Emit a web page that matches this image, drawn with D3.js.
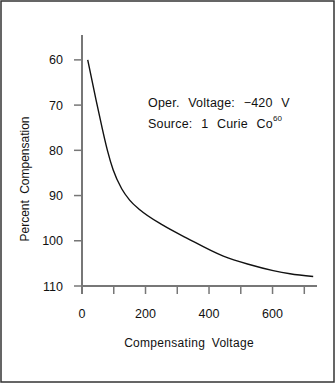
<!DOCTYPE html>
<html>
<head>
<meta charset="utf-8">
<script src="https://cdn.jsdelivr.net/npm/d3@7"></script>
<style>
  html, body { margin: 0; padding: 0; background: #fff; }
  svg { display: block; }
  text { font-family: "Liberation Sans", Arial, sans-serif; fill: #111; }
</style>
</head>
<body>
<svg id="chart" width="336" height="384"></svg>
<script>
// Compensating voltage (V) vs percent compensation
const voltage = [18, 44, 62, 71, 80, 98, 125, 150, 183, 256, 330, 445, 524, 602, 655, 728];
const percent = [60, 68.8, 74.6, 77.4, 80.0, 84.3, 88.5, 91.0, 93.2, 96.6, 99.4, 103.4, 105.2, 106.6, 107.3, 107.9];

const xTicks = [0, 100, 200, 300, 400, 500, 600, 700];
const xTickLabels = [0, 200, 400, 600];
const yTicks = [60, 70, 80, 90, 100, 110];

const svg = d3.select("#chart");
const W = 336, H = 384;

// outer frame
svg.append("rect")
  .attr("x", 1).attr("y", 1).attr("width", W - 3).attr("height", H - 3)
  .attr("fill", "none").attr("stroke", "#333").attr("stroke-width", 1.5);

const x = d3.scaleLinear().domain([0, 740]).range([82, 317]);
const y = d3.scaleLinear().domain([54.5, 110]).range([35, 286]);

const axisColor = "#777";

// y axis
const gy = svg.append("g");
gy.append("line")
  .attr("x1", 82).attr("x2", 82).attr("y1", y(54.5)).attr("y2", y(110) + 8)
  .attr("stroke", axisColor).attr("stroke-width", 2);
gy.selectAll("line.tick").data(yTicks).join("line")
  .attr("class", "tick")
  .attr("x1", 74).attr("x2", 82)
  .attr("y1", d => y(d)).attr("y2", d => y(d))
  .attr("stroke", axisColor).attr("stroke-width", 1.5);
gy.selectAll("text").data(yTicks).join("text")
  .attr("x", 63).attr("y", d => y(d))
  .attr("dy", "0.36em")
  .attr("text-anchor", "end")
  .attr("font-size", 12.5)
  .text(d => d);

// x axis
const gx = svg.append("g");
gx.append("line")
  .attr("x1", 82).attr("x2", x(740)).attr("y1", 286).attr("y2", 286)
  .attr("stroke", axisColor).attr("stroke-width", 2);
gx.selectAll("line.tick").data(xTicks).join("line")
  .attr("class", "tick")
  .attr("x1", d => x(d)).attr("x2", d => x(d))
  .attr("y1", 286).attr("y2", 294)
  .attr("stroke", axisColor).attr("stroke-width", 1.5);
gx.selectAll("text").data(xTickLabels).join("text")
  .attr("x", d => x(d)).attr("y", 313)
  .attr("dy", "0.36em")
  .attr("text-anchor", "middle")
  .attr("font-size", 12.5)
  .text(d => d);

// axis titles
svg.append("text")
  .attr("x", 189).attr("y", 343).attr("dy", "0.36em")
  .attr("text-anchor", "middle").attr("font-size", 12)
  .attr("word-spacing", 3).attr("letter-spacing", 0.3)
  .text("Compensating Voltage");
svg.append("text")
  .attr("transform", "translate(25,179) rotate(-90)")
  .attr("dy", "0.36em")
  .attr("text-anchor", "middle").attr("font-size", 12)
  .attr("word-spacing", 3)
  .text("Percent Compensation");

// annotation
svg.append("text")
  .attr("x", 148).attr("y", 102).attr("dy", "0.36em")
  .attr("font-size", 12.5).attr("word-spacing", 5).attr("letter-spacing", 0.2)
  .text("Oper. Voltage: \u2212420 V");
const src = svg.append("text")
  .attr("x", 148).attr("y", 123).attr("dy", "0.36em")
  .attr("font-size", 12.5).attr("word-spacing", 5).attr("letter-spacing", 0.2);
src.append("tspan").text("Source: 1 Curie Co");
src.append("tspan").attr("font-size", 8).attr("dy", "-0.8em").text("60");

// curve
const pts = voltage.map((v, i) => [v, percent[i]]);
svg.append("path")
  .datum(pts)
  .attr("fill", "none").attr("stroke", "#111").attr("stroke-width", 1.4)
  .attr("d", d3.line().x(d => x(d[0])).y(d => y(d[1])).curve(d3.curveMonotoneX));
</script>
</body>
</html>
